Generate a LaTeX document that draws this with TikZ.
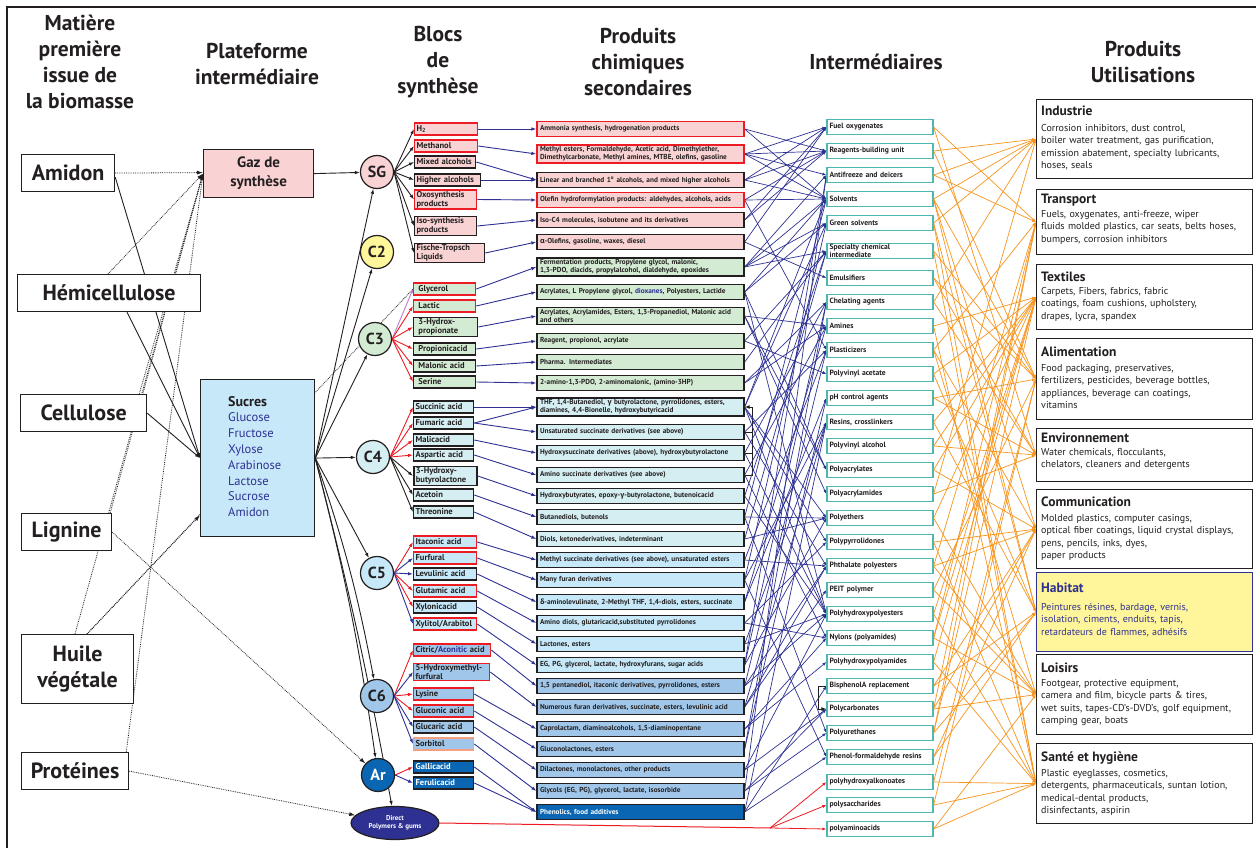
\documentclass[tikz,border=0pt]{standalone}
\usepackage{fontspec}
\setmainfont{PT Sans}
\newfontfamily\grk{Open Sans}
\usetikzlibrary{arrows.meta,shapes.geometric,calc}
\pgfdeclarelayer{back}
\pgfdeclarelayer{bg}
\pgfsetlayers{back,bg,main}
\definecolor{pinkF}{HTML}{F9D3D3}
\definecolor{greenF}{HTML}{D3EBD3}
\definecolor{cyanF}{HTML}{D5EEF2}
\definecolor{lblueF}{HTML}{C6E8F8}
\definecolor{mblueF}{HTML}{A0C7EA}
\definecolor{dblueF}{HTML}{0A66B2}
\definecolor{yellowF}{HTML}{FFF59B}
\definecolor{navy}{HTML}{2E3192}
\definecolor{redB}{HTML}{ED1C24}
\definecolor{tealB}{HTML}{4CB8B0}
\definecolor{orangeL}{HTML}{F7941D}
\definecolor{salmonB}{HTML}{F4A080}
\definecolor{purpleL}{HTML}{C07CD0}
\definecolor{ink}{HTML}{231F20}
\begin{document}
\begin{tikzpicture}[x=1pt,y=-1pt,
 hdr/.style={font=\bfseries\fontsize{21.5}{26}\selectfont, align=center, text=ink},
 src/.style={draw=ink, line width=1.2pt, fill=white, font=\bfseries\fontsize{22}{26}\selectfont, anchor=north west, align=center, inner sep=1pt, text=ink},
 circ/.style={circle, draw=ink, line width=1.2pt, minimum size=33pt, inner sep=0pt, font=\bfseries\fontsize{16}{16}\selectfont, text=ink},
 blk/.style={draw=ink, line width=1.3pt, anchor=west, align=left, font=\bfseries\fontsize{8.5}{9.2}\selectfont, inner xsep=2pt, inner ysep=1pt, minimum height=12pt, text=ink},
 bw/.style={text width=#1},
 prod/.style={draw=ink, line width=1.3pt, minimum width=207pt, text width=201pt, align=left, minimum height=14.5pt, inner xsep=3pt, inner ysep=1.5pt, font=\bfseries\fontsize{7.25}{8.3}\selectfont, text=ink},
 inter/.style={draw=tealB, line width=1.2pt, fill=white, minimum width=106pt, text width=101pt, align=left, minimum height=15.5pt, inner xsep=2.5pt, inner ysep=1pt, font=\bfseries\fontsize{7.6}{8.2}\selectfont, text=ink},
 use/.style={draw=ink, line width=1.2pt, fill=white, minimum width=216pt, anchor=north west},
 uttl/.style={anchor=base west, inner sep=0pt, font=\bfseries\fontsize{13.5}{15}\selectfont, text=ink},
 ubody/.style={anchor=base west, text width=212pt, align=left, font=\fontsize{10}{12.4}\selectfont, inner sep=0pt, text=ink},
 ka/.style={-{Latex[length=5pt,width=3.5pt]}, line width=0.9pt, ink},
 ra/.style={-{Latex[length=5pt,width=3.5pt]}, line width=0.9pt, redB},
 ba/.style={-{Latex[length=5pt,width=3.5pt]}, line width=0.9pt, navy},
 bl/.style={-{Latex[length=4pt,width=3pt]}, line width=0.7pt, navy},
 ol/.style={-{Latex[length=4pt,width=3pt]}, line width=0.7pt, orangeL},
 dl/.style={-{Latex[length=6pt,width=4pt]}, line width=0.8pt, ink, densely dotted},
 dln/.style={line width=0.8pt, ink, densely dotted},
]
\useasboundingbox (0,0) rectangle (1256,848);
\begin{pgfonlayer}{back}
\fill[white] (0,0) rectangle (1256,848);
\end{pgfonlayer}
\draw[line width=1.2pt, ink] (7,848) -- (7,7) -- (1256,7);

% headers
\node[hdr] (h1) at (80,62) {Matière\\première\\issue de\\la biomasse};
\node[hdr] (h2) at (257,64) {Plateforme\\intermédiaire};
\node[hdr] (h3) at (438,62) {Blocs\\de\\synthèse};
\node[hdr] (h4) at (638,62) {Produits\\chimiques\\secondaires};
\node[hdr] (h5) at (876,62) {Intermédiaires};
\node[hdr] (h6) at (1143,62) {Produits\\Utilisations};

% raw materials
\node[src, minimum width=93pt, minimum height=37pt] (amidon) at (21,154) {Amidon};
\node[src, minimum width=183pt, minimum height=37pt] (hemi) at (17,274) {Hémicellulose};
\node[src, minimum width=126pt, minimum height=37pt] (cell) at (20,394) {Cellulose};
\node[src, minimum width=90pt, minimum height=37pt] (lign) at (21,513) {Lignine};
\node[src, minimum width=112pt, minimum height=69pt] (huile) at (21,634) {Huile\\végétale};
\node[src, minimum width=107pt, minimum height=37pt] (prot) at (21,752) {Protéines};

% platforms
\node[draw=ink, line width=1.2pt, fill=pinkF, minimum width=110pt, minimum height=48pt, anchor=north west, align=center, font=\bfseries\fontsize{15}{19}\selectfont, text=ink] (gaz) at (203,149) {Gaz de\\synthèse};
\node[draw=ink, line width=1.2pt, fill=lblueF, minimum width=114pt, minimum height=157pt, anchor=north west] (sucres) at (200,379) {};
\node[anchor=north west, inner sep=0pt, align=left, font=\fontsize{12.5}{15.8}\selectfont, text=navy] (sucrest) at (228,396) {{\bfseries\fontsize{14}{16}\selectfont\color{ink}Sucres}\\Glucose\\Fructose\\Xylose\\Arabinose\\Lactose\\Sucrose\\Amidon};

% blocks circles
\node[circ, fill=pinkF] (sg) at (377,172) {SG};
\node[circ, fill=yellowF] (c2) at (377,252) {C2};
\node[circ, fill=greenF] (c3) at (375,339) {C3};
\node[circ, fill=cyanF] (c4) at (373,457) {C4};
\node[circ, fill=lblueF] (c5) at (377,573) {C5};
\node[circ, fill=mblueF] (c6) at (377,696) {C6};
\node[circ, fill=dblueF, text=white] (ar) at (378,775) {Ar};
\node[ellipse, draw=ink, line width=1.2pt, fill=navy, minimum width=88pt, minimum height=33pt, inner sep=0pt, align=center, text=white, font=\bfseries\fontsize{7}{8}\selectfont] (dp) at (395,823) {Direct\\Polymers \& gums};

% SG boxes
\begin{scope}[every node/.style={blk, fill=pinkF}]
\node[draw=redB, bw=59pt] (b1) at (414,129) {H\textsubscript{2}};
\node[draw=redB, bw=59pt] (b2) at (414,146) {Methanol};
\node[bw=57pt] (b3) at (414,162) {Mixed alcohols};
\node[bw=62pt] (b4) at (414,180) {Higher alcohols};
\node[draw=redB, bw=58pt] (b5) at (414,199.5) {Oxosynthesis\\products};
\node[bw=58pt] (b6) at (414,226) {Iso-synthesis\\products};
\node[bw=66pt] (b7) at (414,253) {Fische-Tropsch\\Liquids};
\end{scope}
\begin{scope}[every node/.style={blk, fill=greenF}]
\node[draw=redB, bw=58pt] (b8) at (413,289) {\ Glycerol};
\node[draw=redB, bw=58pt] (b9) at (413,306) {\ Lactic};
\node[bw=60pt] (b10) at (413,327) {\ 3-Hydrox-\\\ propionate};
\node[bw=58pt] (b11) at (413,349) {\ Propionicacid};
\node[bw=58pt] (b12) at (413,366) {\ Malonic acid};
\node[bw=58pt] (b13) at (413,382) {\ Serine};
\end{scope}
\begin{scope}[every node/.style={blk, fill=cyanF}]
\node[bw=56pt] (b14) at (413,407) {Succinic acid};
\node[bw=56pt] (b15) at (413,423) {Fumaric acid};
\node[bw=56pt] (b16) at (413,440) {Malicacid};
\node[bw=56pt] (b17) at (413,455) {Aspartic acid};
\node[bw=59pt, line width=1.8pt] (b18) at (413,476) {3-Hydroxy-\\butyrolactone};
\node[bw=56pt] (b19) at (413,495) {Acetoin};
\node[bw=56pt] (b20) at (413,512) {Threonine};
\end{scope}
\begin{scope}[every node/.style={blk, fill=lblueF}]
\node[draw=redB, bw=59pt] (b21) at (413,542) {Itaconic acid};
\node[draw=redB, bw=59pt] (b22) at (413,558) {Furfural};
\node[bw=59pt] (b23) at (413,574) {Levulinic acid};
\node[draw=redB, bw=59pt] (b24) at (413,591) {Glutamic acid};
\node[bw=59pt] (b25) at (413,607) {Xylonicacid};
\node[draw=redB, bw=59pt] (b26) at (413,624) {Xylitol/Arabitol};
\end{scope}
\begin{scope}[every node/.style={blk, fill=mblueF}]
\node[draw=redB, bw=73pt] (b27) at (413,650) {Citric/{\color{navy}Aconitic} acid};
\node[draw=redB, bw=72pt] (b28) at (413,672) {5-Hydroxymethyl-\\furfural};
\node[draw=redB, bw=56pt] (b29) at (413,694) {Lysine};
\node[draw=redB, bw=56pt] (b30) at (413,711) {Gluconic acid};
\node[bw=56pt] (b31) at (413,727) {Glucaric acid};
\node[draw=salmonB, bw=56pt] (b32) at (413,744) {Sorbitol};
\end{scope}
\begin{scope}[every node/.style={blk, fill=dblueF, text=white}]
\node[bw=56pt] (b33) at (413,767) {Gallicacid};
\node[bw=56pt] (b34) at (413,783) {Ferulicacid};
\end{scope}

% products
\begin{scope}[every node/.style={prod, fill=pinkF}]
\node[draw=redB] (p1) at (640.5,129) {Ammonia synthesis, hydrogenation products};
\node[draw=redB] (p2) at (640.5,154) {Methyl esters, Formaldehyde, Acetic acid, Dimethylether,\\Dimethylcarbonate, Methyl amines, MTBE, olefins, gasoline};
\node (p3) at (640.5,180) {Linear and branched 1\textsuperscript{o}\ alcohols, and mixed higher alcohols};
\node[draw=redB] (p4) at (640.5,200) {Olefin hydroformylation products: aldehydes, alcohols, acids};
\node (p5) at (640.5,220) {Iso-C4 molecules, isobutene and its derivatives};
\node (p6) at (640.5,242) {{\grk α}-Olefins, gasoline, waxes, diesel};
\end{scope}
\begin{scope}[every node/.style={prod, fill=greenF}]
\node (p7) at (640.5,267) {Fermentation products, Propylene glycol, malonic,\\1,3-PDO, diacids, propylalcohol, dialdehyde, epoxides};
\node (p8) at (640.5,292) {Acrylates, L Propylene glycol, {\color{navy}dioxanes}, Polyesters, Lactide};
\node (p9) at (640.5,316) {Acrylates, Acrylamides, Esters, 1,3-Propanediol, Malonic acid\\and others};
\node (p10) at (640.5,341) {Reagent, propionol, acrylate};
\node (p11) at (640.5,362) {Pharma. Intermediates};
\node (p12) at (640.5,383) {2-amino-1,3-PDO, 2-aminomalonic, (amino-3HP)};
\end{scope}
\begin{scope}[every node/.style={prod, fill=cyanF}]
\node (p13) at (640.5,407) {THF, 1,4-Butanediol, {\grk γ} butyrolactone, pyrrolidones, esters,\\diamines, 4,4-Bionelle, hydroxybutyricacid};
\node (p14) at (640.5,432) {Unsaturated succinate derivatives (see above)};
\node (p15) at (640.5,453) {Hydroxysuccinate derivatives (above), hydroxybutyrolactone};
\node (p16) at (640.5,475) {Amino succinate derivatives (see above)};
\node (p17) at (640.5,496) {Hydroxybutyrates, epoxy-{\grk γ}-butyrolactone, butenoicacid};
\node (p18) at (640.5,517) {Butanediols, butenols};
\node (p19) at (640.5,539) {Diols, ketonederivatives, indeterminant};
\end{scope}
\begin{scope}[every node/.style={prod, fill=lblueF}]
\node (p20) at (640.5,560) {Methyl succinate derivatives (see above), unsaturated esters};
\node (p21) at (640.5,580) {Many furan derivatives};
\node (p22) at (640.5,602) {{\grk δ}-aminolevulinate, 2-Methyl THF, 1,4-diols, esters, succinate};
\node (p23) at (640.5,623) {Amino diols, glutaricacid,substituted pyrrolidones};
\node (p24) at (640.5,644) {Lactones, esters};
\node (p25) at (640.5,665) {EG, PG, glycerol, lactate, hydroxyfurans, sugar acids};
\end{scope}
\begin{scope}[every node/.style={prod, fill=mblueF}]
\node (p26) at (640.5,686) {1,5 pentanediol, itaconic derivatives, pyrrolidones, esters};
\node (p27) at (640.5,707) {Numerous furan derivatives, succinate, esters, levulinic acid};
\node (p28) at (640.5,729) {Caprolactam, diaminoalcohols, 1,5-diaminopentane};
\node (p29) at (640.5,749) {Gluconolactones, esters};
\node (p30) at (640.5,770) {Dilactones, monolactones, other products};
\node (p31) at (640.5,791) {Glycols (EG, PG), glycerol, lactate, isosorbide};
\node[fill=dblueF, text=white] (p32) at (640.5,812) {Phenolics, food additives};
\end{scope}

% intermediates
\begin{scope}[every node/.style={inter}]
\node (i1) at (880,127) {Fuel oxygenates};
\node (i2) at (880,151) {Reagents-building unit};
\node (i3) at (880,175) {Antifreeze and deicers};
\node (i4) at (880,199) {Solvents};
\node (i5) at (880,223) {Green solvents};
\node (i6) at (880,251) {Specialty chemical\\intermediate};
\node (i7) at (880,278) {Emulsifiers};
\node (i8) at (880,302) {Chelating agents};
\node (i9) at (880,326) {Amines};
\node (i10) at (880,350) {Plasticizers};
\node (i11) at (880,374) {Polyvinyl acetate};
\node (i12) at (880,398) {pH control agents};
\node (i13) at (880,422) {Resins, crosslinkers};
\node (i14) at (880,446) {Polyvinyl alcohol};
\node (i15) at (880,470) {Polyacrylates};
\node (i16) at (880,494) {Polyacrylamides};
\node (i17) at (880,518) {Polyethers};
\node (i18) at (880,542) {Polypyrrolidones};
\node (i19) at (880,566) {Phthalate polyesters};
\node (i20) at (880,590) {PEIT polymer};
\node (i21) at (880,614) {Polyhydroxypolyesters};
\node (i22) at (880,638) {Nylons (polyamides)};
\node (i23) at (880,662) {Polyhydroxypolyamides};
\node (i24) at (880,686) {BisphenolA replacement};
\node (i25) at (880,709) {Polycarbonates};
\node (i26) at (880,733) {Polyurethanes};
\node (i27) at (880,757) {Phenol-formaldehyde resins};
\node (i28) at (880,782) {polyhydroxyalkonoates};
\node (i29) at (880,805) {polysaccharides};
\node (i30) at (880,829) {polyaminoacids};
\end{scope}

% uses
\node[use, minimum height=79pt] (u1) at (1036,99) {};
\node[use, minimum height=65pt] (u2) at (1036,189) {};
\node[use, minimum height=65pt] (u3) at (1036,264) {};
\node[use, minimum height=81pt] (u4) at (1036,338) {};
\node[use, minimum height=53pt] (u5) at (1036,428) {};
\node[use, minimum height=79pt] (u6) at (1036,489) {};
\node[use, minimum height=79pt, fill=yellowF, draw=navy] (u7) at (1036,572) {};
\node[use, minimum height=80pt] (u8) at (1036,654) {};
\node[use, minimum height=80pt] (u9) at (1036,743) {};
\node[uttl] (t1) at (1041,115.5) {Industrie};
\node[ubody] (d1) at (1041,131.5) {Corrosion inhibitors, dust control,\\boiler water treatment, gas purification,\\emission abatement, specialty lubricants,\\hoses, seals};
\node[uttl] (t2) at (1041,203.5) {Transport};
\node[ubody] (d2) at (1041,217.5) {Fuels, oxygenates, anti-freeze, wiper\\fluids molded plastics, car seats, belts hoses,\\bumpers, corrosion inhibitors};
\node[uttl] (t3) at (1041,281.5) {Textiles};
\node[ubody] (d3) at (1041,294.5) {Carpets, Fibers, fabrics, fabric\\coatings, foam cushions, upholstery,\\drapes, lycra, spandex};
\node[uttl] (t4) at (1041,356.5) {Alimentation};
\node[ubody] (d4) at (1041,371.5) {Food packaging, preservatives,\\fertilizers, pesticides, beverage bottles,\\appliances, beverage can coatings,\\vitamins};
\node[uttl] (t5) at (1041,442.5) {Environnement};
\node[ubody] (d5) at (1041,455.5) {Water chemicals, flocculants,\\chelators, cleaners and detergents};
\node[uttl] (t6) at (1041,506.5) {Communication};
\node[ubody] (d6) at (1041,521.5) {Molded plastics, computer casings,\\optical fiber coatings, liquid crystal displays,\\pens, pencils, inks, dyes,\\paper products};
\node[uttl, text=navy] (t7) at (1041,592.5) {Habitat};
\node[ubody, text=navy] (d7) at (1041,610.5) {Peintures résines, bardage, vernis,\\isolation, ciments, enduits, tapis,\\retardateurs de flammes, adhésifs};
\node[uttl] (t8) at (1041,672.5) {Loisirs};
\node[ubody] (d8) at (1041,686.5) {Footgear, protective equipment,\\camera and film, bicycle parts \& tires,\\wet suits, tapes-CD's-DVD's, golf equipment,\\camping gear, boats};
\node[uttl] (t9) at (1041,761.5) {Santé et hygiène};
\node[ubody] (d9) at (1041,776.5) {Plastic eyeglasses, cosmetics,\\detergents, pharmaceuticals, suntan lotion,\\medical-dental products,\\disinfectants, aspirin};

% ================= connectors (behind nodes) =================
\begin{pgfonlayer}{bg}
% left: raw materials
\draw[dl] (amidon.east) -- ($(gaz.west)+(0,-1)$);
\draw[dl] ($(hemi.north west)+(91,0)$) -- (gaz.west);
\draw[dl] ($(cell.north east)+(-8,0)$) -- (gaz.west);
\draw[dl] ($(lign.north east)+(-2,0)$) -- (gaz.west);
\draw[dl] ($(huile.north west)+(54,0)$) -- (gaz.west);
\draw[dl] ($(prot.north east)+(-3,0)$) -- (gaz.west);
\draw[dl] ($(huile.north west)+(66,0)$) -- ($(sucres.south west)+(0,-22)$);
\draw[dln] ($(huile.north west)+(66,0)$) -- (b8.west);
\draw[dl] (lign.east) -- (ar);
\draw[dl] (prot.east) -- (dp);
\draw[ka] ($(amidon.east)+(0,4)$) -- (sucres.west);
\draw[ka] ($(hemi.south west)+(110,0)$) -- (sucres.west);
\draw[ka] (cell.east) -- (sucres.west);

% platforms -> blocks
\draw[ka] (gaz.east) -- (sg);
\draw[ka] (sucres.east) -- (sg);
\draw[ka] (sucres.east) -- (c2);
\draw[ka] (sucres.east) -- (c3);
\draw[ka] (sucres.east) -- (c4);
\draw[ka] (sucres.east) -- (c5);
\draw[ka] (sucres.east) to[bend left=4] (c6);
\draw[ka] (sucres.east) to[bend left=3] (ar);
\draw[ka] (sucres.east) to[bend left=2] (dp);

% circle -> boxes
\foreach \b in {b1,b2,b3,b4,b5,b6,b7} \draw[ka] (sg.east) -- (\b.west);
\draw[-{Latex[length=4pt,width=3pt]}, line width=0.9pt, purpleL] (c3.east) -- (b8.west);
\foreach \b in {b9,b10,b11,b12,b13} \draw[ra] (c3.east) -- (\b.west);
\foreach \b in {b14,b15,b16,b17} \draw[ra] (c4.east) -- (\b.west);
\foreach \b in {b18,b19,b20} \draw[ka] (c4.east) -- (\b.west);
\foreach \b in {b21,b24,b25} \draw[ra] (c5.east) -- (\b.west);
\foreach \b in {b22,b23,b26} \draw[ba] (c5.east) -- (\b.west);
\foreach \b in {b27,b29,b30} \draw[ra] (c6.east) -- (\b.west);
\foreach \b in {b28,b31,b32} \draw[ba] (c6.east) -- (\b.west);
\draw[ra] (ar.east) -- (b33.west);
\draw[ba] (ar.east) -- (b34.west);

% blocks -> products
\foreach \a/\b in {b1/p1,b2/p2,b3/p3,b4/p3,b5/p4,b6/p5,b7/p6,b8/p7,b9/p8,b10/p9,b11/p10,b12/p11,b13/p12,b14/p13,b15/p13,b15/p14,b16/p15,b17/p16,b18/p17,b19/p18,b20/p19,b21/p20,b22/p21,b23/p22,b24/p23,b25/p24,b26/p25,b27/p26,b28/p27,b29/p28,b30/p29,b31/p30,b32/p31,b33/p32,b34/p32}
  \draw[ba] (\a.east) -- (\b.west);

% see-above bracket
\draw[line width=1pt, ink] (p14.east) -- ++(8,0) coordinate (br1);
\draw[line width=1pt, ink] (p15.east) -- ++(8,0);
\draw[line width=1pt, ink] (p16.east) -- ++(8,0) coordinate (br2);
\draw[-{Latex[length=5pt,width=4pt]}, line width=1pt, ink] (br2) -- (br2 |- p13.east) -- (p13.east);

% products -> intermediates
\foreach \a/\b in {p1/i2,p1/i4,p2/i1,p2/i2,p2/i3,p2/i4,p3/i1,p3/i2,p3/i4,p4/i2,p4/i4,p4/i10,p5/i1,p5/i2,p6/i1,p6/i7,p7/i3,p7/i4,p7/i5,p7/i6,p8/i4,p8/i5,p8/i15,p8/i21,p9/i15,p9/i16,p9/i9,p10/i6,p10/i11,p11/i6,p12/i9,p12/i8,p13/i4,p13/i5,p13/i17,p13/i18,p13/i21,p14/i10,p14/i19,p15/i21,p15/i8,p16/i9,p16/i22,p17/i21,p17/i6,p18/i17,p18/i26,p18/i4,p19/i6,p19/i17,p20/i10,p20/i19,p21/i5,p21/i13,p21/i27,p22/i9,p22/i12,p23/i18,p23/i22,p24/i21,p24/i13,p25/i3,p25/i17,p25/i8,p26/i10,p26/i19,p26/i21,p27/i13,p27/i20,p27/i19,p28/i22,p28/i23,p29/i8,p29/i12,p30/i21,p30/i25,p31/i3,p31/i26,p31/i25,p32/i24,p32/i27,p32/i13}
  \draw[bl] (\a.east) -- (\b.west);

\draw[-{Latex[length=5pt,width=4pt]}, line width=1pt, ink] (i24.west) -- ++(-8,0) coordinate (bq) -- (bq |- i25.west) -- (i25.west);

% direct polymers
\draw[line width=1pt, redB] (dp.east) -- (770,828) coordinate (dpj);
\foreach \b in {i28,i29,i30} \draw[-{Latex[length=4pt,width=3pt]}, line width=0.8pt, redB] (dpj) -- (\b.west);

% intermediates -> uses
\foreach \a/\b in {i1/u2,i1/u5,i2/u1,i2/u4,i3/u1,i3/u2,i4/u1,i4/u4,i4/u6,i4/u7,i5/u1,i5/u7,i5/u9,i6/u4,i6/u9,i7/u4,i7/u5,i8/u1,i8/u5,i9/u3,i9/u9,i10/u2,i10/u6,i10/u8,i11/u3,i11/u7,i12/u4,i12/u5,i13/u3,i13/u7,i14/u3,i14/u5,i15/u3,i15/u6,i16/u5,i16/u1,i17/u3,i17/u8,i18/u9,i18/u6,i19/u2,i19/u6,i19/u8,i20/u4,i20/u8,i21/u3,i21/u9,i22/u3,i22/u2,i22/u8,i23/u3,i23/u9,i24/u6,i24/u7,i25/u6,i25/u2,i25/u8,i26/u3,i26/u2,i26/u7,i27/u7,i27/u6,i28/u4,i28/u9,i29/u4,i29/u9,i30/u9,i30/u8}
  \draw[ol] (\a.east) -- (\b.west);
\end{pgfonlayer}
\end{tikzpicture}
\end{document}
